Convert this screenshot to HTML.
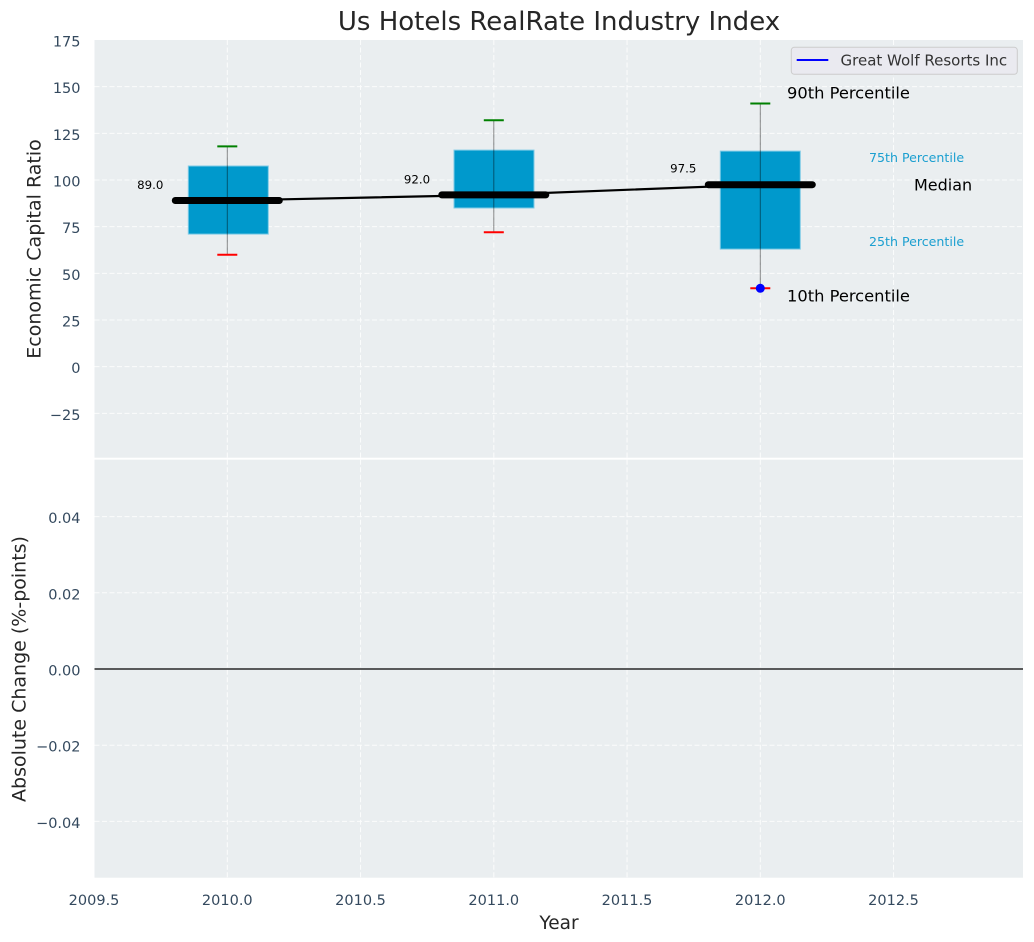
<!DOCTYPE html>
<html>
<head>
<meta charset="utf-8">
<style>
html,body{margin:0;padding:0;background:#ffffff;}
svg{display:block;}
text{font-family:"DejaVu Sans","Liberation Sans",sans-serif;}
</style>
</head>
<body>
<svg width="1034" height="942" viewBox="0 0 1034 942" xmlns="http://www.w3.org/2000/svg">
  <rect x="0" y="0" width="1034" height="942" fill="#ffffff"/>
  <!-- Title -->
  <text x="559" y="30" font-size="26" fill="#262626" text-anchor="middle">Us Hotels RealRate Industry Index</text>

  <!-- Top axes background -->
  <rect x="94.5" y="40" width="928.5" height="417.7" fill="#eaeef0"/>
  <!-- Bottom axes background -->
  <rect x="94.5" y="459.7" width="928.5" height="418" fill="#eaeef0"/>

  <!-- Grid top -->
  <g stroke="#ffffff" stroke-width="1" stroke-dasharray="5,2.5" opacity="0.85">
    <line x1="94.5" y1="86.67" x2="1023" y2="86.67"/>
    <line x1="94.5" y1="133.33" x2="1023" y2="133.33"/>
    <line x1="94.5" y1="180" x2="1023" y2="180"/>
    <line x1="94.5" y1="226.67" x2="1023" y2="226.67"/>
    <line x1="94.5" y1="273.33" x2="1023" y2="273.33"/>
    <line x1="94.5" y1="320" x2="1023" y2="320"/>
    <line x1="94.5" y1="366.67" x2="1023" y2="366.67"/>
    <line x1="94.5" y1="413.33" x2="1023" y2="413.33"/>
    <line x1="227.3" y1="40" x2="227.3" y2="457.7"/>
    <line x1="360.55" y1="40" x2="360.55" y2="457.7"/>
    <line x1="493.8" y1="40" x2="493.8" y2="457.7"/>
    <line x1="627.05" y1="40" x2="627.05" y2="457.7"/>
    <line x1="760.3" y1="40" x2="760.3" y2="457.7"/>
    <line x1="893.55" y1="40" x2="893.55" y2="457.7"/>
  </g>
  <!-- Grid bottom -->
  <g stroke="#ffffff" stroke-width="1" stroke-dasharray="5,2.5" opacity="0.85">
    <line x1="94.5" y1="516.6" x2="1023" y2="516.6"/>
    <line x1="94.5" y1="592.8" x2="1023" y2="592.8"/>
    <line x1="94.5" y1="745.2" x2="1023" y2="745.2"/>
    <line x1="94.5" y1="821.4" x2="1023" y2="821.4"/>
    <line x1="227.3" y1="459.7" x2="227.3" y2="877.7"/>
    <line x1="360.55" y1="459.7" x2="360.55" y2="877.7"/>
    <line x1="493.8" y1="459.7" x2="493.8" y2="877.7"/>
    <line x1="627.05" y1="459.7" x2="627.05" y2="877.7"/>
    <line x1="760.3" y1="459.7" x2="760.3" y2="877.7"/>
    <line x1="893.55" y1="459.7" x2="893.55" y2="877.7"/>
  </g>
  <!-- zero line bottom -->
  <line x1="94.5" y1="669" x2="1023" y2="669" stroke="#000000" stroke-width="1.2"/>

  <!-- Boxes -->
  <g fill="#0099cc" stroke="#7fcbe6" stroke-width="1">
    <rect x="188.3" y="166" width="80" height="68.1"/>
    <rect x="454" y="150.1" width="80" height="57.9"/>
    <rect x="720.3" y="151.1" width="80" height="98"/>
  </g>
  <!-- Whiskers -->
  <g stroke="#000000" stroke-opacity="0.45" stroke-width="1">
    <line x1="227.3" y1="146.4" x2="227.3" y2="254.7"/>
    <line x1="493.8" y1="120.3" x2="493.8" y2="232.3"/>
    <line x1="760.3" y1="103.5" x2="760.3" y2="288.3"/>
  </g>
  <!-- Caps -->
  <g stroke-width="2">
    <line x1="217.3" y1="146.4" x2="237.3" y2="146.4" stroke="#008000"/>
    <line x1="217.3" y1="254.7" x2="237.3" y2="254.7" stroke="#ff0000"/>
    <line x1="483.8" y1="120.3" x2="503.8" y2="120.3" stroke="#008000"/>
    <line x1="483.8" y1="232.3" x2="503.8" y2="232.3" stroke="#ff0000"/>
    <line x1="750.3" y1="103.5" x2="770.3" y2="103.5" stroke="#008000"/>
    <line x1="750.3" y1="288.3" x2="770.3" y2="288.3" stroke="#ff0000"/>
  </g>
  <!-- connecting median line -->
  <polyline points="227.3,200.5 493.8,194.9 760.3,184.7" fill="none" stroke="#000000" stroke-width="2.2"/>
  <!-- Thick medians -->
  <g stroke="#000000" stroke-width="7" stroke-linecap="round">
    <line x1="175.3" y1="200.5" x2="279.3" y2="200.5"/>
    <line x1="441.8" y1="194.9" x2="545.8" y2="194.9"/>
    <line x1="708.3" y1="184.7" x2="812.3" y2="184.7"/>
  </g>
  <!-- Company dot -->
  <circle cx="760.3" cy="288.3" r="4.5" fill="#0000ff"/>

  <!-- Median value labels -->
  <g font-size="11.8" fill="#000000" text-anchor="middle">
    <text x="150.3" y="189">89.0</text>
    <text x="417" y="183.3">92.0</text>
    <text x="683.3" y="172.7">97.5</text>
  </g>

  <!-- Annotations -->
  <text x="787" y="98.5" font-size="16.3" fill="#000000">90th Percentile</text>
  <text x="787" y="301.5" font-size="16.3" fill="#000000">10th Percentile</text>
  <text x="914" y="190.5" font-size="16" fill="#000000">Median</text>
  <text x="869" y="162" font-size="12.6" fill="#1b9fd0">75th Percentile</text>
  <text x="869" y="246" font-size="12.6" fill="#1b9fd0">25th Percentile</text>

  <!-- Legend -->
  <rect x="791.3" y="47.3" width="226" height="27" rx="3" ry="3" fill="#eaeaf0" stroke="#cccccc" stroke-width="1"/>
  <line x1="796.7" y1="60" x2="828.3" y2="60" stroke="#0000ff" stroke-width="2"/>
  <text x="840.5" y="65.5" font-size="15" fill="#333333">Great Wolf Resorts Inc</text>

  <!-- Y ticks top -->
  <g font-size="14.5" fill="#34495e" text-anchor="end">
    <text x="80.5" y="46.5">175</text>
    <text x="80.5" y="93.2">150</text>
    <text x="80.5" y="139.8">125</text>
    <text x="80.5" y="186.5">100</text>
    <text x="80.5" y="233.2">75</text>
    <text x="80.5" y="279.8">50</text>
    <text x="80.5" y="326.5">25</text>
    <text x="80.5" y="373.2">0</text>
    <text x="80.5" y="419.8">−25</text>
  </g>
  <!-- Y ticks bottom -->
  <g font-size="14.5" fill="#34495e" text-anchor="end">
    <text x="80.5" y="523.1">0.04</text>
    <text x="80.5" y="599.3">0.02</text>
    <text x="80.5" y="675.5">0.00</text>
    <text x="80.5" y="751.7">−0.02</text>
    <text x="80.5" y="827.9">−0.04</text>
  </g>
  <!-- X ticks -->
  <g font-size="14.5" fill="#34495e" text-anchor="middle">
    <text x="94.05" y="905">2009.5</text>
    <text x="227.3" y="905">2010.0</text>
    <text x="360.55" y="905">2010.5</text>
    <text x="493.8" y="905">2011.0</text>
    <text x="627.05" y="905">2011.5</text>
    <text x="760.3" y="905">2012.0</text>
    <text x="893.55" y="905">2012.5</text>
  </g>

  <!-- Axis labels -->
  <text x="559" y="929" font-size="18.5" fill="#262626" text-anchor="middle">Year</text>
  <text transform="translate(40.5,249) rotate(-90)" font-size="19" fill="#262626" text-anchor="middle">Economic Capital Ratio</text>
  <text transform="translate(25.5,669) rotate(-90)" font-size="19" fill="#262626" text-anchor="middle">Absolute Change (%-points)</text>
</svg>
</body>
</html>
